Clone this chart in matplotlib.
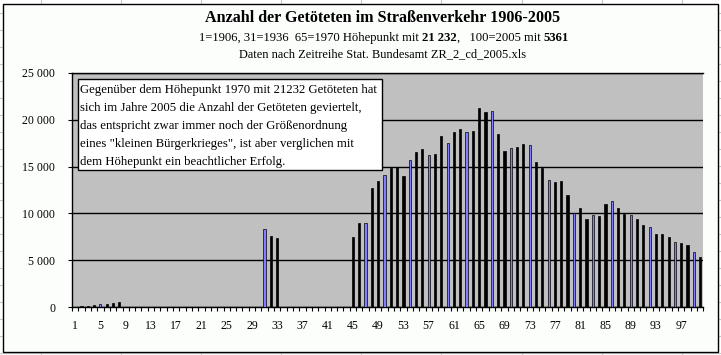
import numpy as np
import matplotlib
matplotlib.use("Agg")
import matplotlib.pyplot as plt
from matplotlib.patches import Rectangle
from matplotlib.lines import Line2D
from matplotlib.ticker import FuncFormatter

# Kategorien 1..100 (1=1906 ... 100=2005), Lücken ohne Daten = nan
categories = np.arange(1, 101)

deaths_1906_1913 = [0, 140, 140, 230, 340, 340, 450, 580]
deaths_1936_1938 = [8388, 7636, 7354]
deaths_1950_2005 = [
    7540, 8990, 8990, 12700, 13480, 14080, 14830, 15000, 14010, 15680,
    16520, 16840, 16210, 16350, 18220, 17520, 18650, 18970, 18650, 18750,
    21232, 20770, 20880, 18470, 16690, 17010, 17110, 17430, 17330, 15480,
    14880, 13530, 13360, 13460, 11980, 10070, 10600, 9440, 9860, 9750,
    11030, 11300, 10630, 9950, 9810, 9450, 8760, 8550, 7790, 7770,
    7500, 6980, 6840, 6610, 5840, 5361,
]

y_ticks = [0, 5000, 10000, 15000, 20000, 25000]
x_label_ticks = list(range(1, 100, 4))

title = "Anzahl der Getöteten im Straßenverkehr 1906-2005"
subtitle_parts = [
    ("1=1906, 31=1936  65=1970 Höhepunkt mit ", "normal"),
    ("21 232", "bold"),
    (",   100=2005 mit ", "normal"),
    ("5361", "bold"),
]
source_line = "Daten nach Zeitreihe Stat. Bundesamt ZR_2_cd_2005.xls"
note_lines = [
    "Gegenüber dem Höhepunkt 1970 mit 21232 Getöteten hat",
    "sich im Jahre 2005 die Anzahl der Getöteten geviertelt,",
    "das entspricht zwar immer noch der Größenordnung",
    "eines \"kleinen Bürgerkrieges\", ist aber verglichen mit",
    "dem Höhepunkt ein beachtlicher Erfolg.",
]

# Balken, die in der Vorlage hellblau gefüllt erscheinen
blue_bars = {5, 31, 47, 50, 54, 57, 60, 63, 67, 70, 73, 76, 80, 83, 86, 89, 92, 96, 99}


def build_series():
    values = np.full(100, np.nan)
    values[0:8] = deaths_1906_1913
    values[30:33] = deaths_1936_1938
    values[44:100] = deaths_1950_2005
    return values


def thousands(value, pos):
    return f"{int(value):,}".replace(",", " ")


W, H = 721, 355
plt.rcParams["font.family"] = ["Liberation Serif", "DejaVu Serif"]

fig = plt.figure(figsize=(W / 100, H / 100), dpi=100)
fig.patch.set_facecolor("white")

# Tabellen-Gitterlinien außerhalb des Diagrammrahmens
for k in range(9):
    x = (41 + 80.1 * k) / W
    fig.lines.append(Line2D([x, x], [0, 1], transform=fig.transFigure,
                            color="#c8c8c8", lw=0.8, zorder=-3))
for k in range(21):
    y = 1 - (12.6 + 17 * k) / H
    fig.lines.append(Line2D([0, 1], [y, y], transform=fig.transFigure,
                            color="#c8c8c8", lw=0.8, zorder=-3))

fig.patches.append(Rectangle((3.5 / W, 3 / H), (718 - 3.5) / W, (352 - 3.5) / H,
                             transform=fig.transFigure, facecolor="#fcfefc",
                             edgecolor="black", lw=1.0, zorder=-2))

ax = fig.add_axes([72 / W, 47.7 / H, (703.3 - 72) / W, (307.3 - 72.7) / H])
ax.set_facecolor("#c0c0c0")

values = build_series()
colors = ["#8080ff" if c in blue_bars else "black" for c in categories]
ax.bar(categories, values, width=0.34, color=colors, edgecolor="black",
       linewidth=0.5, zorder=3)

ax.set_xlim(0.5, 100.5)
ax.set_ylim(0, 25000)
ax.set_yticks(y_ticks)
ax.yaxis.set_major_formatter(FuncFormatter(thousands))
ax.yaxis.grid(True, color="black", lw=1.0)
ax.set_axisbelow(True)

ax.set_xticks(np.arange(0.5, 101, 1))
ax.set_xticklabels([])
ax.set_xticks(x_label_ticks, minor=True)
ax.set_xticklabels([str(t) for t in x_label_ticks], minor=True)
ax.tick_params(axis="x", which="major", direction="out", length=3, width=0.8)
ax.tick_params(axis="x", which="minor", length=0, pad=9, labelsize=8.5)
ax.tick_params(axis="y", direction="out", length=3, width=0.8, pad=9, labelsize=8.5)

ax.spines["right"].set_visible(False)
for side in ["left", "bottom", "top"]:
    ax.spines[side].set_color("black")
    ax.spines[side].set_linewidth(1.0)

# Titelzeilen
fig.text(383 / W, 1 - 18 / H, title, ha="center", va="center",
         fontsize=11.6, fontweight="bold")

renderer = fig.canvas.get_renderer()
pieces = [fig.text(0, 1 - 41 / H, s, fontsize=9.05, fontweight=w, va="baseline")
          for s, w in subtitle_parts]
widths = [p.get_window_extent(renderer).width for p in pieces]
x = 384 - sum(widths) / 2
for p, w in zip(pieces, widths):
    p.set_x(x / W)
    x += w

fig.text(383 / W, 1 - 57 / H, source_line, ha="center", va="baseline", fontsize=8.9)

# Textfeld
fig.patches.append(Rectangle((77.5 / W, 1 - 170 / H), (382 - 77.5) / W, (170 - 79) / H,
                             transform=fig.transFigure, facecolor="white",
                             edgecolor="black", lw=1.0, zorder=5))
for i, line in enumerate(note_lines):
    fig.text(80.5 / W, 1 - (93 + 18 * i) / H, line, ha="left", va="baseline",
             fontsize=9.2, zorder=6)

fig.savefig("out.png", dpi=100)
